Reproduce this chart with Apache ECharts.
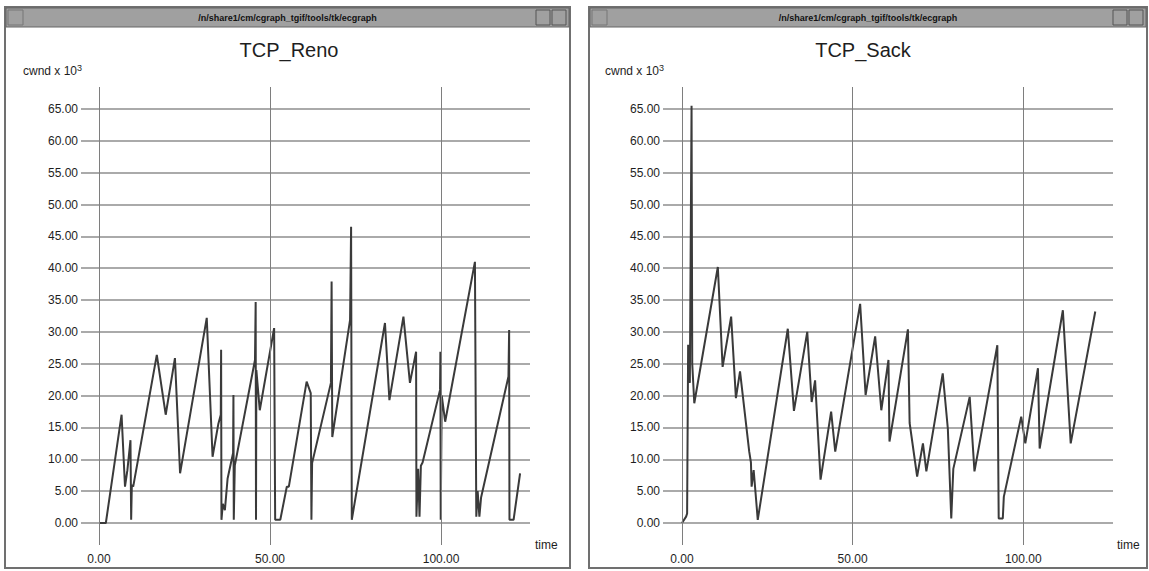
<!DOCTYPE html>
<html><head><meta charset="utf-8">
<script src="https://cdn.jsdelivr.net/npm/echarts@6/dist/echarts.min.js"></script>
<style>html,body{margin:0;padding:0;background:#fff}#c{width:1149px;height:571px}</style>
</head><body><div id="c"></div>
<script>
// ---- data ----
const chartTitles = ['TCP_Reno', 'TCP_Sack'];
const yLabelText = 'cwnd x 10{sup|3}';
const xName = 'time';
const windowCaption = '/n/share1/cm/cgraph_tgif/tools/tk/ecgraph';
const xTicks = [0, 50, 100];
const yMin = 0, yMax = 65, yStep = 5;
const xMax = 126;

const renoTime = [0, 2, 6.6, 7.6, 8.3, 9.2, 9.4, 9.6, 10, 16.9, 19.5, 22.2, 23.7, 31.5, 33.2, 34.9, 35.6, 35.7, 35.8, 36.2, 36.8, 37.6, 39.2, 39.3, 39.4, 39.7, 45.6, 45.8, 45.9, 46.0, 47.0, 51.2, 51.5, 53.0, 54.9, 55.5, 60.7, 61.9, 62.1, 62.3, 67.8, 68.0, 68.2, 73.4, 73.7, 73.9, 83.6, 84.9, 89.0, 90.9, 92.7, 92.8, 93.3, 93.7, 94.1, 94.6, 99.7, 99.8, 99.9, 100.2, 101.2, 109.9, 110.3, 110.7, 111.2, 111.7, 119.7, 119.9, 120.0, 121.2, 123.1];
const renoCwnd = [0, 0, 17, 5.7, 8.3, 13, 0.5, 6, 5.7, 26.4, 17, 25.9, 7.8, 32.2, 10.4, 15.6, 17, 27.2, 0.5, 3, 2, 7, 11, 20.1, 0.5, 9, 25.6, 34.7, 0.5, 24, 17.7, 30.6, 0.5, 0.5, 5.7, 5.7, 22.2, 20.4, 0.5, 9.4, 22, 37.9, 13.5, 31.9, 46.5, 0.5, 31.4, 19.3, 32.4, 22, 26.9, 1, 8.5, 1, 9, 9.5, 20.9, 26.9, 0.5, 20, 15.9, 41, 1, 5, 1, 4, 23, 30.3, 0.5, 0.5, 7.8];

const sackTime = [0, 1.2, 1.5, 1.8, 2.3, 2.8, 3.0, 3.6, 10.5, 11.9, 14.4, 15.8, 17.0, 19.7, 20.2, 20.4, 21.0, 22.2, 31.0, 32.8, 36.7, 38.0, 39.0, 40.6, 43.7, 44.9, 52.2, 53.8, 56.6, 58.4, 60.5, 60.8, 66.2, 66.7, 68.9, 70.6, 71.6, 76.4, 77.9, 78.9, 79.5, 84.3, 85.7, 92.4, 92.8, 94.0, 94.3, 99.4, 100.6, 104.3, 104.8, 111.6, 113.9, 121.1];
const sackCwnd = [0, 1, 1.5, 28, 22, 65.5, 25, 18.8, 40.2, 24.5, 32.4, 19.6, 23.8, 11.2, 9.5, 5.7, 8.3, 0.5, 30.5, 17.6, 30, 19, 22.4, 6.8, 17.5, 11.2, 34.4, 20.1, 29.3, 17.7, 25.6, 12.8, 30.4, 15.7, 7.3, 12.5, 8.1, 23.5, 14.8, 0.7, 8.5, 19.8, 8.1, 27.9, 0.7, 0.7, 4.1, 16.7, 12.5, 24.3, 11.7, 33.4, 12.5, 33.2];

// ---- layout / style ----
const FONT = 'Liberation Sans';
const TXT = '#1e1e1e';
const panels = [
  {win: [5, 7, 565, 561], hGrid: {left: 81, width: 449}, vGrid: {left: 99, width: 431}, titleX: 284, yLabX: 18},
  {win: [589, 7, 558, 561], hGrid: {left: 663, width: 450}, vGrid: {left: 682, width: 430}, titleX: 858, yLabX: 600}
];
const plotTop = 109, plotH = 414;          // y=65 .. y=0
const vTop = 87, vBottomPx = 545;          // vertical grid line extent
const pxPerUnit = plotH / (yMax - yMin);
const vMin = yMin - (vBottomPx - (plotTop + plotH)) / pxPerUnit;
const vMax = yMax + (plotTop - vTop) / pxPerUnit;

const series = [[renoTime, renoCwnd], [sackTime, sackCwnd]];

const grid = [], xAxis = [], yAxis = [], seriesOpt = [], title = [], graphic = [];
panels.forEach((p, i) => {
  grid.push({left: p.hGrid.left, width: p.hGrid.width, top: plotTop, height: plotH});
  grid.push({left: p.vGrid.left, width: p.vGrid.width, top: vTop, height: vBottomPx - vTop});
  const gh = i * 2, gv = i * 2 + 1;
  xAxis.push({gridIndex: gh, type: 'value', min: 0, max: 1, show: false});
  xAxis.push({gridIndex: gv, type: 'value', min: 0, max: xMax, interval: 50, position: 'bottom',
    axisLine: {show: false, onZero: false}, axisTick: {show: false}, splitLine: {show: false},
    axisLabel: {margin: 8, fontFamily: FONT, fontSize: 12, color: TXT,
      formatter: v => (xTicks.indexOf(v) >= 0 ? v.toFixed(2) : '')},
    name: xName, nameLocation: 'end', nameGap: 5,
    nameTextStyle: {fontFamily: FONT, fontSize: 12, color: TXT, verticalAlign: 'middle', padding: [2, 0, 0, 0]}
  });
  yAxis.push({gridIndex: gh, type: 'value', min: yMin, max: yMax, interval: yStep,
    axisLine: {show: false}, axisTick: {show: false},
    splitLine: {show: true, lineStyle: {color: '#8e8e8e', width: 1.5}},
    axisLabel: {margin: 3, fontFamily: FONT, fontSize: 12, color: TXT, formatter: v => v.toFixed(2)}
  });
  yAxis.push({gridIndex: gv, type: 'value', min: vMin, max: vMax, show: false});
  const [ts, vs] = series[i];
  seriesOpt.push({
    type: 'line', xAxisIndex: gv, yAxisIndex: gv, showSymbol: false, symbol: 'none',
    data: ts.map((t, k) => [t, vs[k]]),
    lineStyle: {color: '#3a3a3a', width: 2}, animation: false,
    markLine: {silent: true, symbol: 'none', label: {show: false}, animation: false,
      lineStyle: {color: '#7e7e7e', width: 1, type: 'solid'},
      data: xTicks.map(x => ({xAxis: x}))}
  });
  title.push({text: chartTitles[i], left: p.titleX, top: 35, textAlign: 'center',
    textStyle: {fontFamily: FONT, fontSize: 20, fontWeight: 'normal', color: TXT}});
  title.push({text: yLabelText, left: p.yLabX, top: 58,
    textStyle: {fontFamily: FONT, fontSize: 12, fontWeight: 'normal', color: TXT, lineHeight: 16,
      rich: {sup: {fontFamily: FONT, fontSize: 9, color: TXT, verticalAlign: 'top', lineHeight: 16, padding: [0, 0, 7, 0]}}}});
  const [wx, wy, ww, wh] = p.win;
  graphic.push({type: 'rect', shape: {x: wx, y: wy, width: ww, height: wh},
    style: {fill: 'none', stroke: '#707070', lineWidth: 2}, silent: true});
  graphic.push({type: 'rect', shape: {x: wx + 1, y: wy + 1, width: ww - 2, height: 19},
    style: {fill: '#a0a0a0', stroke: '#666', lineWidth: 1}, silent: true});
  graphic.push({type: 'rect', shape: {x: wx + 3, y: wy + 3, width: 15, height: 15},
    style: {fill: '#a0a0a0', stroke: '#777', lineWidth: 1}, silent: true});
  graphic.push({type: 'rect', shape: {x: wx + ww - 34, y: wy + 3, width: 14, height: 15},
    style: {fill: '#a0a0a0', stroke: '#555', lineWidth: 1}, silent: true});
  graphic.push({type: 'rect', shape: {x: wx + ww - 18, y: wy + 3, width: 14, height: 15},
    style: {fill: '#a0a0a0', stroke: '#555', lineWidth: 1}, silent: true});
  graphic.push({type: 'text', x: wx + ww / 2, y: wy + 11, silent: true,
    style: {text: windowCaption, fontFamily: FONT, fontSize: 9, fontWeight: 'bold', fill: '#111', align: 'center', verticalAlign: 'middle'}});
});

const chart = echarts.init(document.getElementById('c'), null, {renderer: 'svg'});
chart.setOption({
  animation: false,
  backgroundColor: '#fff',
  title, grid, xAxis, yAxis, series: seriesOpt, graphic
});
</script></body></html>
